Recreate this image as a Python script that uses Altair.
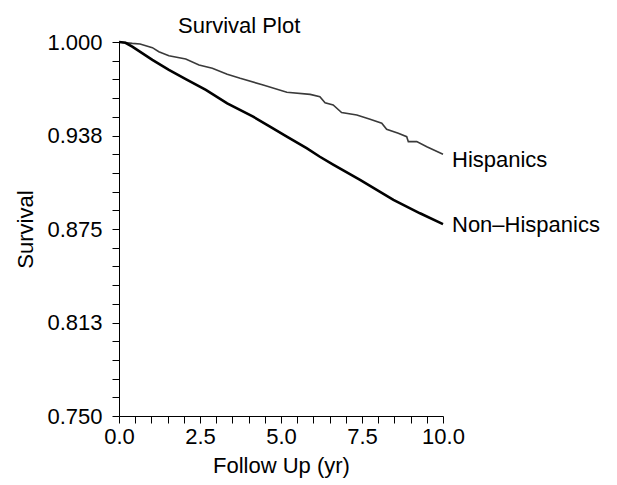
import altair as alt
import pandas as pd

# Kaplan-Meier style survival curves
hisp_t = [0, 0.41, 0.65, 1.03, 1.23, 1.54, 2.06, 2.47, 2.88, 3.34, 3.74, 4.45, 5.18, 5.9,
          6.2, 6.36, 6.61, 6.87, 7.34, 7.75, 8.11, 8.26, 8.62, 8.88, 8.93, 9.19, 9.5, 10.0]
hisp_s = [1.0, 0.9991, 0.9987, 0.9962, 0.9935, 0.9908, 0.9886, 0.9846, 0.9824, 0.9784,
          0.9757, 0.9713, 0.9664, 0.965, 0.9634, 0.9594, 0.9579, 0.9528, 0.9512, 0.9483,
          0.9457, 0.9416, 0.939, 0.9367, 0.9334, 0.9334, 0.930, 0.925]
nh_t = [0, 0.2, 0.41, 1.03, 1.54, 2.06, 2.68, 3.34, 4.14, 4.66, 5.18, 5.79, 6.2, 6.61,
        7.44, 8.47, 9.29, 10.0]
nh_s = [1.0, 0.9995, 0.9969, 0.988, 0.9813, 0.9752, 0.968, 0.959, 0.9501, 0.9434,
        0.9367, 0.929, 0.9233, 0.918, 0.9078, 0.8944, 0.8855, 0.8783]

series_names = ["Hispanics", "Non\u2013Hispanics"]
x_ticks = [i * 0.5 for i in range(21)]
y_ticks = [0.75 + i * 0.0125 for i in range(21)]

FONT = "Liberation Sans"
FS = 22

hisp = pd.DataFrame({"t": hisp_t, "s": hisp_s, "g": series_names[0]})
nh = pd.DataFrame({"t": nh_t, "s": nh_s, "g": series_names[1]})

x_enc = alt.X("t:Q", scale=alt.Scale(domain=[0, 10], nice=False, zero=False),
              axis=alt.Axis(values=x_ticks, title="Follow Up (yr)",
                            labelExpr="(round(datum.value*10) % 25 == 0) ? format(datum.value, '.1f') : ''",
                            grid=False, tickSize=7, labelPadding=3, titlePadding=8,
                            domainColor="black", tickColor="black", labelColor="black",
                            titleColor="black", labelFont=FONT, titleFont=FONT,
                            labelFontSize=FS, titleFontSize=FS, titleFontWeight="normal",
                            labelFlush=False, labelOverlap=False))
y_enc = alt.Y("s:Q", scale=alt.Scale(domain=[0.75, 1.0], nice=False, zero=False),
              axis=alt.Axis(values=y_ticks, title="Survival",
                            labelExpr="(round(datum.value*10000) % 625 == 0) ? format(datum.value, '.3f') : ''",
                            grid=False, tickSize=7, labelPadding=10, titlePadding=9,
                            domainColor="black", tickColor="black", labelColor="black",
                            titleColor="black", labelFont=FONT, titleFont=FONT,
                            labelFontSize=FS, titleFontSize=FS, titleFontWeight="normal",
                            labelFlush=False, labelOverlap=False))

line_h = alt.Chart(hisp).mark_line(color="#3a3a3a", strokeWidth=1.6).encode(x=x_enc, y=y_enc)
line_nh = alt.Chart(nh).mark_line(color="black", strokeWidth=2.6).encode(x=x_enc, y=y_enc)

lab_h = alt.Chart(hisp.tail(1)).mark_text(align="left", baseline="middle", dx=9, dy=6,
                                          font=FONT, fontSize=FS, color="black").encode(
    x=x_enc, y=y_enc, text="g:N")
lab_nh = alt.Chart(nh.tail(1)).mark_text(align="left", baseline="middle", dx=9, dy=1,
                                         font=FONT, fontSize=FS, color="black").encode(
    x=x_enc, y=y_enc, text="g:N")

chart = alt.layer(line_h, line_nh, lab_h, lab_nh).properties(
    width=324, height=374,
    autosize=alt.AutoSizeParams(type="none"),
    padding={"left": 119, "top": 42, "right": 174, "bottom": 69},
    title=alt.TitleParams("Survival Plot", anchor="start", frame="group", dx=59, offset=0,
                          baseline="alphabetic", dy=24,
                          font=FONT, fontSize=FS, fontWeight="normal", color="black"),
    background="white",
).configure_view(stroke=None)

chart.save("out.html", embed_options={"renderer": "svg", "actions": False})
